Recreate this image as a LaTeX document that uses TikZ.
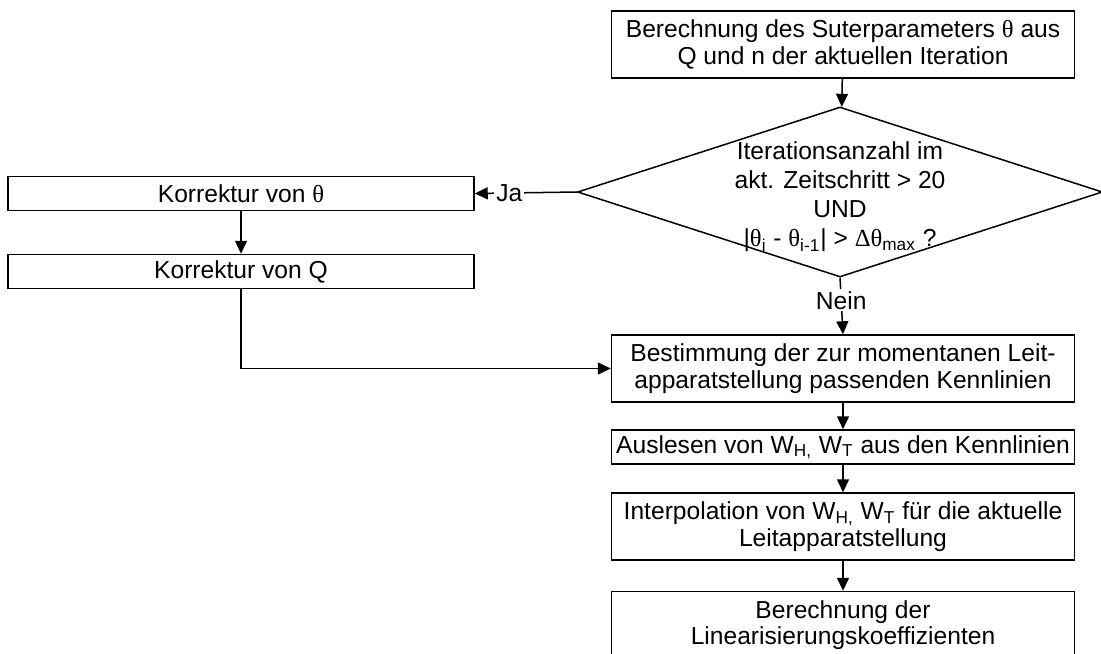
\documentclass[tikz,border=0pt]{standalone}
\usepackage{fontspec}
\setmainfont{Liberation Sans}
\newfontfamily\symb{Liberation Serif}
\usetikzlibrary{shapes.geometric,arrows.meta}
\newcommand{\thet}{{\symb θ}}
\newcommand{\Delt}{{\symb Δ}}

\begin{document}
\begin{tikzpicture}[
                x=0.5pt, y=-0.5pt,            % 1 Einheit = 1 Pixel
                every node/.style={font=\fontsize{12.3}{13.3}\selectfont},
                box/.style={
                    rectangle,
                    draw,
                    line width=0.75pt,
                    minimum width=231.5pt,
                    minimum height=33.5pt,
                    inner sep=2pt,
                    align=center
                },
                flatbox/.style={box, minimum height=17pt},
                decision/.style={
                    diamond,
                    draw,
                    line width=0.75pt,
                    minimum width=262.5pt,
                    minimum height=85pt,
                    inner sep=0pt
                },
                dtext/.style={align=center, font=\fontsize{12.3}{14.5}\selectfont, yshift=-2.5pt},
                lbl/.style={fill=white, inner sep=1pt},
                >={Triangle[length=6.5pt, width=6pt]},
                arrow/.style={->, line width=0.75pt}
            ]
                \clip (0,0) rectangle (1101,653);

                % Knoten
                \node[box] (berech) at (843,44.5)
                    {Berechnung des Suterparameters \thet{} aus\\Q und n der aktuellen Iteration};
                \node[decision, label={[dtext]center:Iterationsanzahl im\\akt. Zeitschritt > 20\\UND\\
                     |\thet\textsubscript{i} - \thet\textsubscript{i-1}| > \Delt\thet\textsubscript{max} ?}]
                    (abfrage) at (840,192) {};
                \node[flatbox, minimum width=233pt] (korrT) at (241,193.5) {Korrektur von \thet};
                \node[flatbox, minimum width=233pt] (korrQ) at (241,271.5) {Korrektur von Q};
                \node[box] (bestimm) at (843,368.5)
                    {Bestimmung der zur momentanen Leit-\\apparatstellung passenden Kennlinien};
                \node[flatbox] (auslesen) at (843,447)
                    {Auslesen von W\textsubscript{H,} W\textsubscript{T} aus den Kennlinien};
                \node[box] (interp) at (843,526.5)
                    {Interpolation von W\textsubscript{H,} W\textsubscript{T} für die aktuelle\\Leitapparatstellung};
                \node[box] (linkoeff) at (843,625)
                    {Berechnung der\\Linearisierungskoeffizienten};

                % Verbindungen
                \draw[arrow] (berech) -- (abfrage);
                \draw[arrow] (abfrage.west) -- node[lbl, pos=0.66] {Ja} (korrT.east);
                \draw[arrow] (korrT) -- (korrQ);
                \draw[arrow] (korrQ.south) |- (bestimm.west);
                \draw[arrow] (abfrage.south) -- node[lbl, pos=0.4] {Nein} (bestimm.north);
                \draw[arrow] (bestimm) -- (auslesen);
                \draw[arrow] (auslesen) -- (interp);
                \draw[arrow] (interp) -- (linkoeff);
            \end{tikzpicture}
\end{document}
